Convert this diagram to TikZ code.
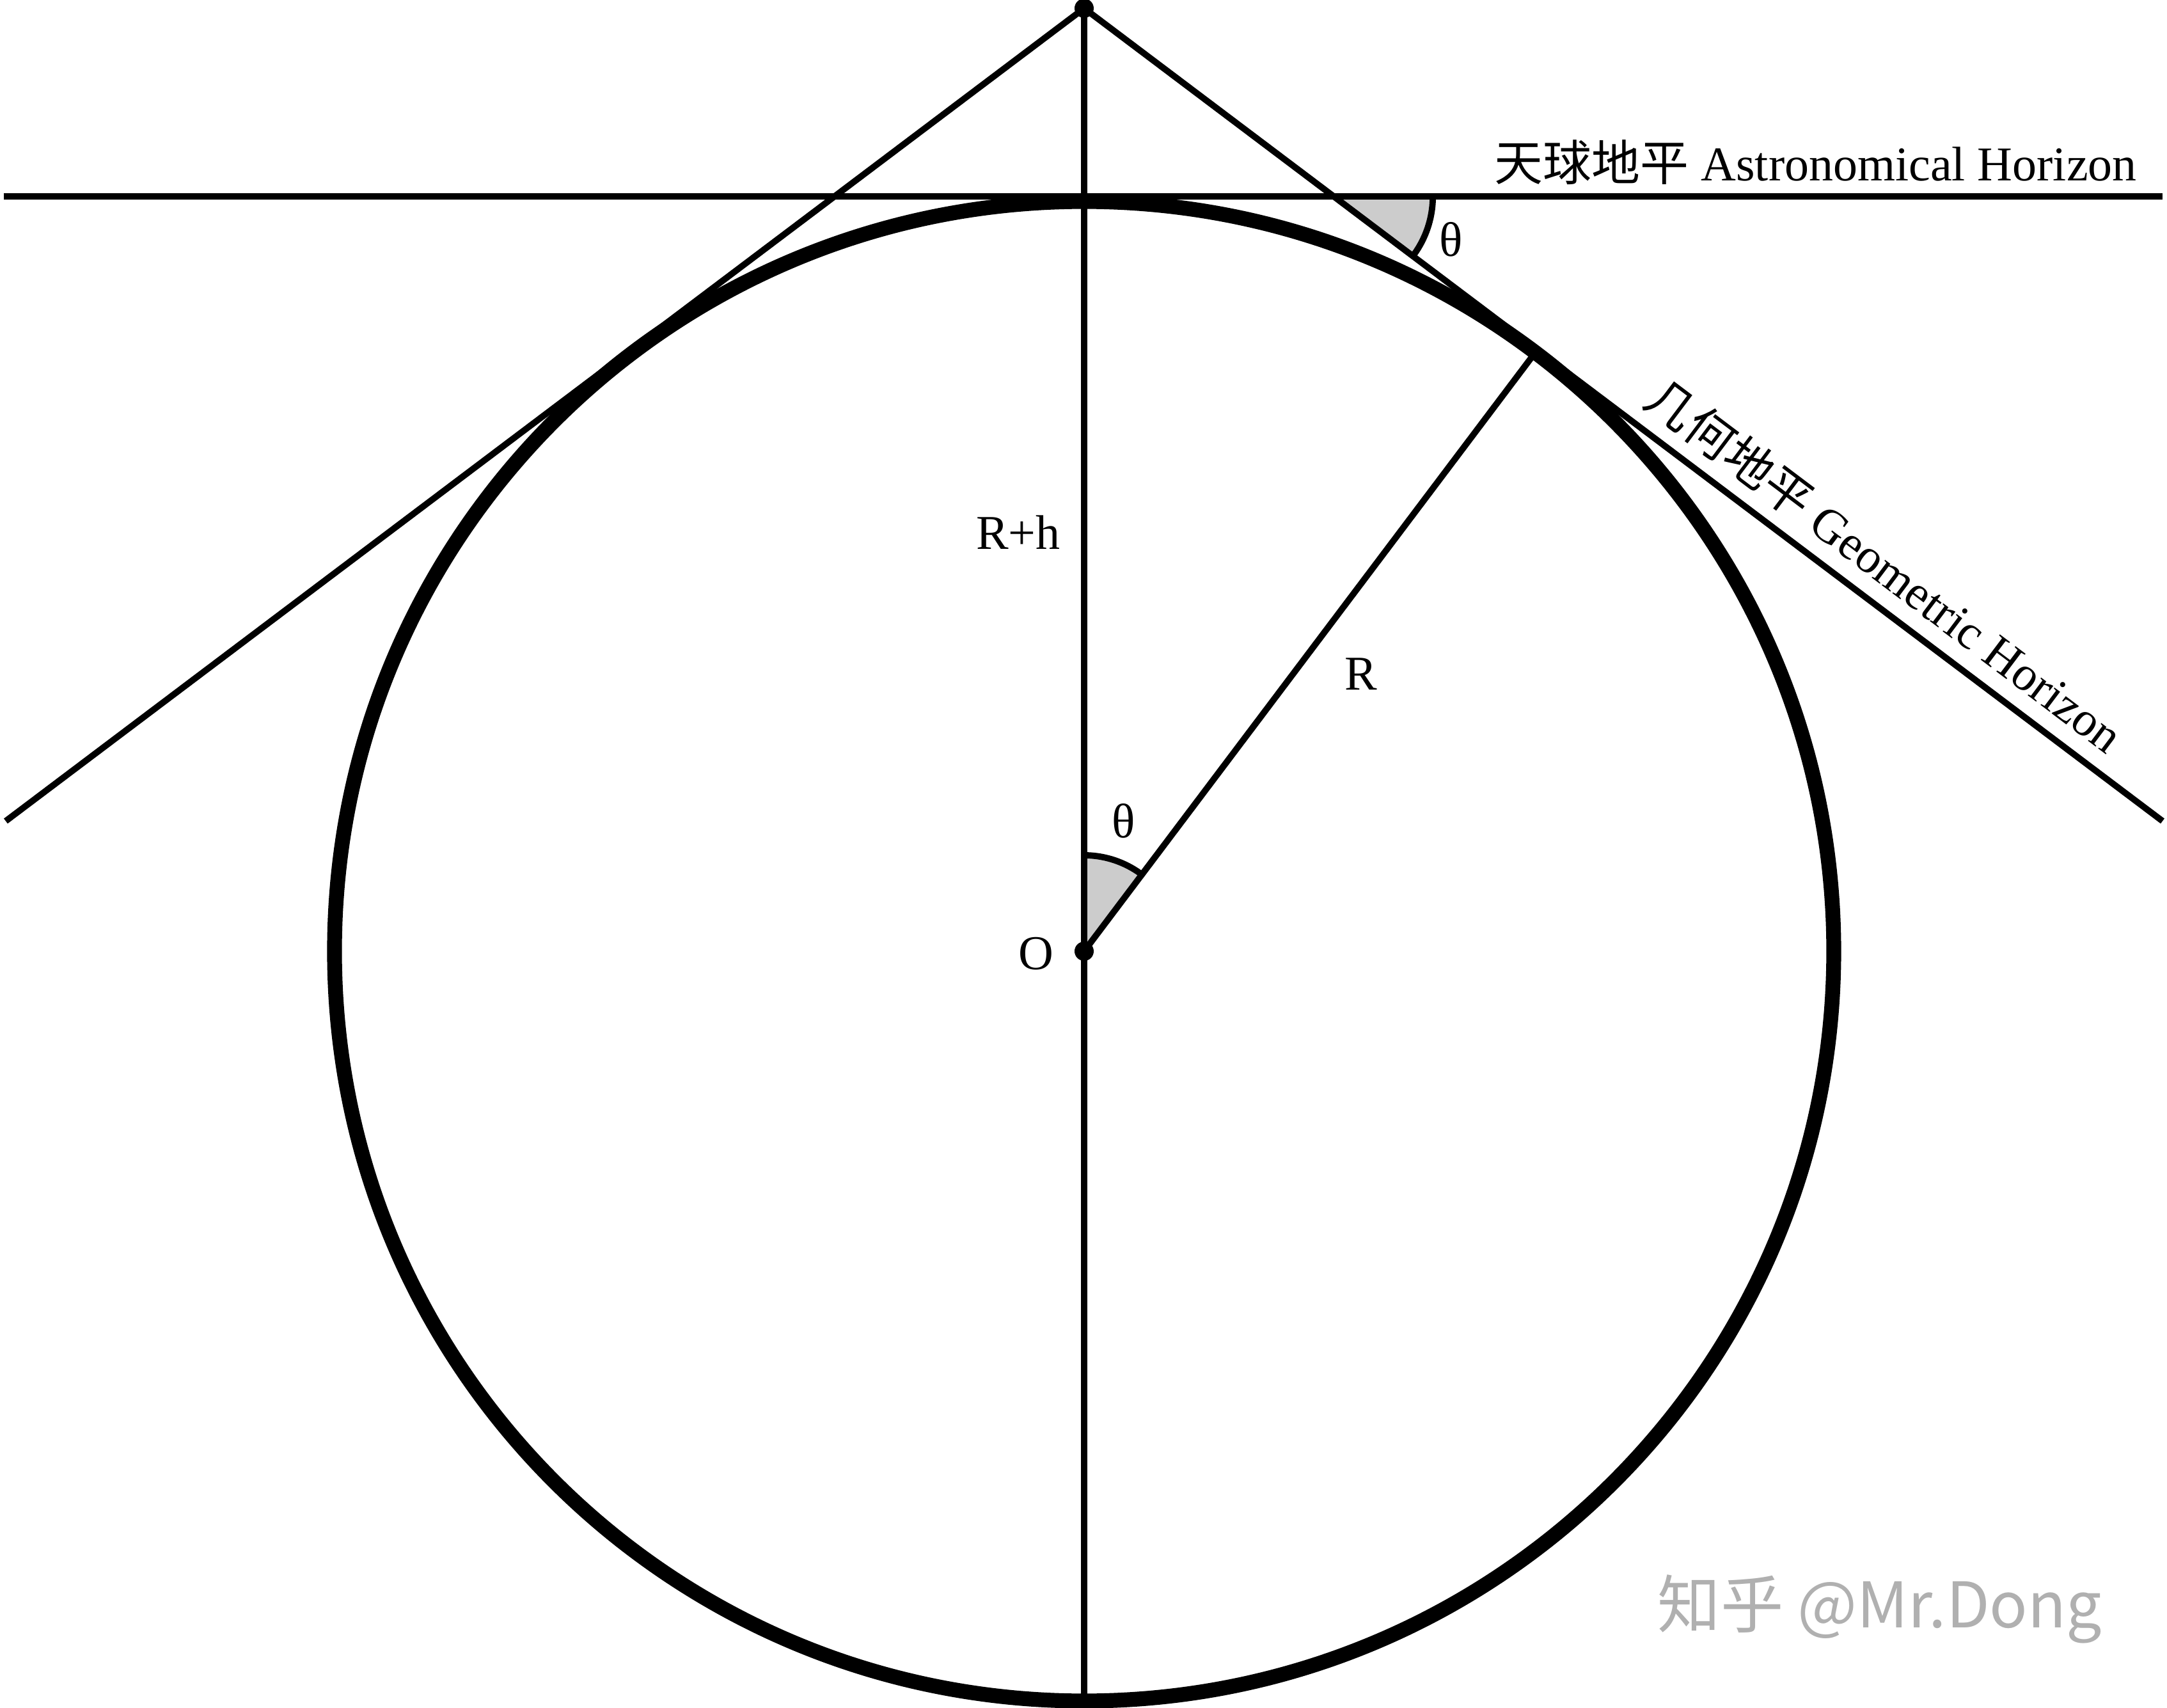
\documentclass[tikz,border=0pt]{standalone}
\usepackage{fontspec}
\setmainfont{Liberation Serif}
\newfontfamily\cjk{Noto Sans CJK SC}
\usetikzlibrary{positioning}

\begin{document}
\begin{tikzpicture}[
    thinline/.style={line width=2.8pt},
    earth/.style={line width=6.6pt},
    anglefill/.style={fill=gray!40},
    lbl/.style={font=\fontsize{21.6}{26}\selectfont},
    dotmark/.style={fill=black}]
\useasboundingbox (-16.95,-11.82) rectangle (16.93,14.87);

% radius, height of observer, angle
\pgfmathsetmacro{\rad}{11.72}
\pgfmathsetmacro{\hgt}{14.74}
\pgfmathsetmacro{\tht}{37.0}
\pgfmathsetmacro{\ey}{\hgt-16.86*tan(\tht)}
\pgfmathsetmacro{\hy}{11.80}
\pgfmathsetmacro{\px}{(\hgt-\hy)/tan(\tht)}

\coordinate (O) at (0,0);
\coordinate (A) at (0,\hgt);
\coordinate (B) at (0,-\rad);
\coordinate (T) at ({90-\tht}:\rad);
\coordinate (E) at (16.86,\ey);
\coordinate (W) at (-16.86,\ey);
\coordinate (hl) at (-16.89,\hy);
\coordinate (hr) at (16.86,\hy);
\coordinate (P) at (\px,\hy);

% angle marks
\fill[anglefill] (O) -- ++(90:1.5) arc[start angle=90, end angle={90-\tht}, radius=1.5] -- cycle;
\draw[thinline] (O) ++(90:1.5) arc[start angle=90, end angle={90-\tht}, radius=1.5];
\fill[anglefill] (P) -- ++(0:1.55) arc[start angle=0, end angle={-\tht}, radius=1.55] -- cycle;
\draw[thinline] (P) ++(0:1.55) arc[start angle=0, end angle={-\tht}, radius=1.55];

% lines
\draw[thinline] (hl) -- (hr);
\draw[thinline] (A) -- (B);
\draw[thinline] (O) -- (T);
\draw[thinline] (A) -- (W);
\draw[thinline] (A) -- (E)
    node[lbl, pos=0.722, sloped, above=0.12cm, inner sep=2pt] (geo) {{\cjk 几何地平} Geometric Horizon};

% earth
\draw[earth] (O) circle (\rad);

\fill[dotmark] (A) circle (0.15);
\fill[dotmark] (O) circle (0.15);

% labels
\node[lbl, anchor=base east] (astro) at (16.58,12.04) {{\cjk 天球地平} Astronomical Horizon};
\node[lbl] (rh) at (-1.03,6.55) {R+h};
\node[lbl] (rlab) at (4.33,4.33) {R};
\node[lbl] (thO) at (0.62,2.04) {θ};
\node[lbl] (thP) at (5.74,11.13) {θ};
\node[lbl] (olab) at (-0.75,-0.04) {O};
\node[font=\cjk\fontsize{28}{32}\selectfont, text=black!31] (mark) at (12.44,-10.28) {知乎 @Mr.Dong};

\end{tikzpicture}
\end{document}
